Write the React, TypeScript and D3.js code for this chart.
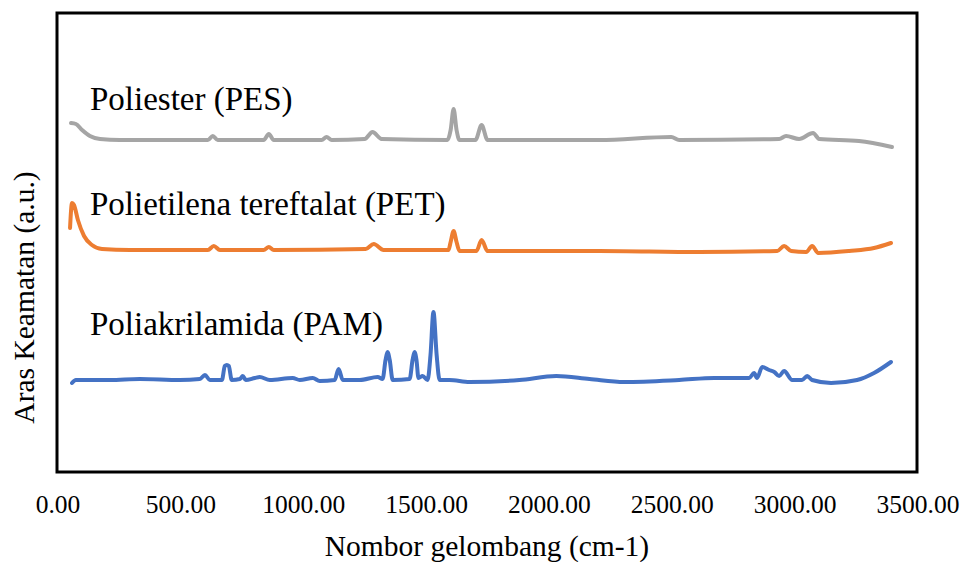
import React from 'react';
import * as d3 from 'd3';

// [wavenumber (cm-1), intensity (a.u.)]
const pes: [number, number][] = [
  [53, 349], [73, 348], [98, 342], [130, 336], [171, 333], [252, 332], [496, 332],
  [610, 332], [630, 336], [650, 332], [837, 332], [858, 338], [878, 332],
  [1073, 332], [1093, 335], [1114, 332], [1248, 333], [1280, 340], [1317, 333],
  [1585, 332], [1598, 342], [1610, 363], [1622, 342], [1634, 332], [1699, 332],
  [1724, 347], [1748, 332], [2203, 332], [2496, 335], [2528, 332], [2935, 333],
  [2963, 336], [3016, 333], [3073, 339], [3098, 333], [3260, 331], [3394, 325],
];

const pet: [number, number][] = [
  [49, 244], [57, 269], [65, 267], [81, 252], [106, 236], [138, 227], [179, 223],
  [293, 222], [610, 222], [634, 226], [659, 222], [837, 222], [858, 225], [878, 222],
  [1252, 223], [1285, 228], [1325, 222], [1589, 222], [1598, 230], [1610, 241],
  [1622, 230], [1634, 221], [1703, 221], [1724, 232], [1748, 221], [2203, 221],
  [2610, 220], [2927, 221], [2955, 226], [2984, 221], [3045, 220], [3069, 226],
  [3094, 219], [3220, 221], [3321, 224], [3390, 229],
];

const pam: [number, number][] = [
  [57, 89], [73, 92], [211, 92], [333, 93], [496, 92], [577, 93], [598, 97], [618, 92],
  [667, 92], [679, 106], [687, 107], [695, 106], [707, 92], [740, 93], [752, 96],
  [764, 92], [801, 94], [821, 95], [862, 92], [955, 94], [984, 92], [1037, 94],
  [1065, 91], [1126, 92], [1142, 103], [1159, 92], [1228, 92], [1301, 95], [1321, 93],
  [1333, 112], [1341, 120], [1350, 112], [1362, 92], [1431, 93], [1443, 112],
  [1451, 120], [1459, 112], [1467, 94], [1484, 96], [1504, 92], [1516, 117],
  [1528, 160], [1541, 117], [1553, 92], [1593, 92], [1675, 90], [1878, 92],
  [2028, 96], [2163, 93], [2305, 90], [2528, 92], [2671, 94], [2813, 94], [2833, 99],
  [2845, 94], [2866, 105], [2894, 102], [2915, 100], [2935, 96], [2955, 101],
  [2988, 92], [3028, 92], [3049, 96], [3069, 92], [3146, 89], [3252, 92], [3321, 99],
  [3390, 110],
];

const seriesNames = ['Poliester (PES)', 'Polietilena tereftalat (PET)', 'Poliakrilamida (PAM)'];
const seriesColors = ['#a5a5a5', '#ed7d31', '#4472c4'];
const seriesData = [pes, pet, pam];
const labelLevels = [362, 257, 137]; // intensity level of each label baseline
const xTicks = [0, 500, 1000, 1500, 2000, 2500, 3000, 3500];

const W = 961;
const H = 562;
const frame = { left: 57, right: 917, top: 13, bottom: 472 };
const font = '"Times New Roman", "Liberation Serif", serif';

export default function App() {
  const x = d3.scaleLinear().domain([0, 3500]).range([frame.left + 1, frame.right + 1]);
  const y = d3.scaleLinear().domain([0, 460]).range([frame.bottom, frame.top - 1]);
  const line = d3
    .line<[number, number]>()
    .x((d) => x(d[0]))
    .y((d) => y(d[1]))
    .curve(d3.curveMonotoneX);

  return (
    <svg
      width={W}
      height={H}
      viewBox={`0 0 ${W} ${H}`}
      style={{ position: 'absolute', left: 0, top: 0, background: '#fff' }}
    >
      <rect width={W} height={H} fill="#fff" />
      {seriesData.map((d, i) => (
        <path
          key={seriesNames[i]}
          d={line(d) ?? ''}
          fill="none"
          stroke={seriesColors[i]}
          strokeWidth={4}
          strokeLinejoin="round"
          strokeLinecap="round"
        />
      ))}
      {seriesNames.map((n, i) => (
        <text key={n} x={90} y={y(labelLevels[i])} fontFamily={font} fontSize={33} fill="#000">
          {n}
        </text>
      ))}
      <rect
        x={frame.left}
        y={frame.top}
        width={frame.right - frame.left}
        height={frame.bottom - frame.top}
        fill="none"
        stroke="#000"
        strokeWidth={3}
      />
      {xTicks.map((t) => (
        <text
          key={t}
          x={x(t)}
          y={513}
          textAnchor="middle"
          fontFamily={font}
          fontSize={25.5}
          fill="#000"
        >
          {t.toFixed(2)}
        </text>
      ))}
      <text
        x={(frame.left + frame.right) / 2}
        y={556}
        textAnchor="middle"
        fontFamily={font}
        fontSize={29.5}
        fill="#000"
      >
        Nombor gelombang (cm-1)
      </text>
      <text
        transform={`translate(34,${(frame.top + frame.bottom) / 2 + 55}) rotate(-90)`}
        textAnchor="middle"
        fontFamily={font}
        fontSize={29.5}
        fill="#000"
      >
        Aras Keamatan (a.u.)
      </text>
    </svg>
  );
}
